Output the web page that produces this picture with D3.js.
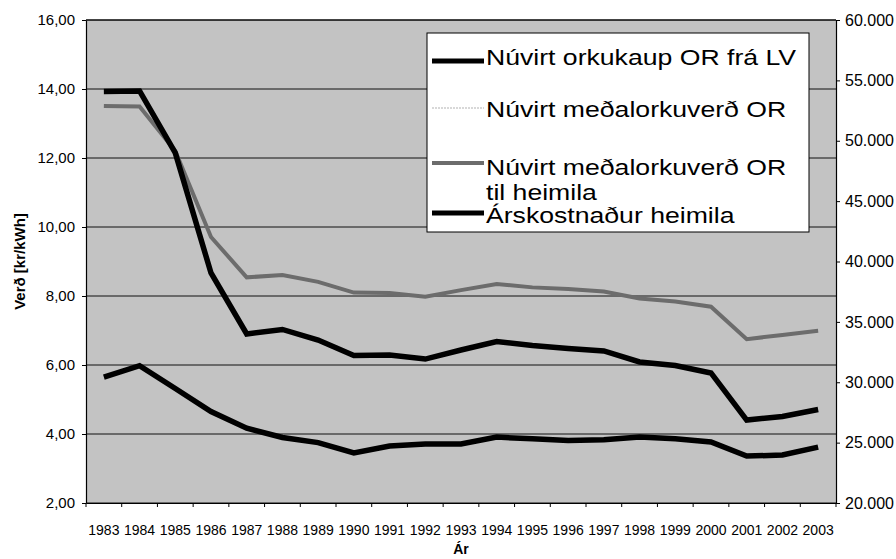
<!DOCTYPE html>
<html>
<head>
<meta charset="utf-8">
<script src="https://cdn.jsdelivr.net/npm/d3@7"></script>
<style>
body { margin: 0; background: #fff; }
svg text { font-family: "Liberation Sans", Arial, sans-serif; fill: #000; }
</style>
</head>
<body>
<svg id="svg1"></svg>
<script>

// data
var years = [1983, 1984, 1985, 1986, 1987, 1988, 1989, 1990, 1991, 1992, 1993,
             1994, 1995, 1996, 1997, 1998, 1999, 2000, 2001, 2002, 2003];
// kr/kWh, left axis
var orkukaup = [5.65, 5.98, 5.32, 4.65, 4.17, 3.9, 3.75, 3.45, 3.65, 3.71, 3.71,
                3.91, 3.86, 3.81, 3.83, 3.91, 3.86, 3.77, 3.36, 3.39, 3.62];
var medalverdHeimili = [13.51, 13.49, 12.2, 9.71, 8.54, 8.61, 8.41, 8.1, 8.09, 7.98, 8.17,
                        8.35, 8.25, 8.2, 8.13, 7.93, 7.84, 7.69, 6.75, 6.87, 6.99];
// kr, right axis
var arskostnadur = [54080, 54120, 48990, 39050, 34000, 34370, 33500, 32210, 32250, 31920, 32670,
                    33370, 33040, 32790, 32590, 31680, 31390, 30770, 26870, 27160, 27740];
var leftTicks = [2, 4, 6, 8, 10, 12, 14, 16];
var rightTicks = [20000, 25000, 30000, 35000, 40000, 45000, 50000, 55000, 60000];
var legendNames = ['Núvirt orkukaup OR frá LV', 'Núvirt meðalorkuverð OR',
                   'Núvirt meðalorkuverð OR', 'Árskostnaður heimila'];

// layout
var margin = {top: 20, right: 60, bottom: 56, left: 86};
var width = 750;
var height = 483;

// scales
var x = d3.scaleBand().domain(years).range([0, width]);
var yL = d3.scaleLinear().domain([2, 16]).range([height, 0]);
var yR = d3.scaleLinear().domain([20000, 60000]).range([height, 0]);

var leftFormat = function(d) { return d3.format('.2f')(d).replace('.', ','); };
var rightFormat = function(d) { return d3.format(',')(d).replace(',', '.'); };

var svg = d3.select('#svg1')
  .attr('width', width + margin.left + margin.right)
  .attr('height', height + margin.top + margin.bottom)
  .append('g')
    .attr('transform', 'translate(' + margin.left + ',' + margin.top + ')');

// plot background
svg.append('rect')
  .attr('width', width)
  .attr('height', height)
  .style('fill', '#c3c3c3');

// gridlines
svg.selectAll('line.grid')
  .data(leftTicks)
  .enter()
  .append('line')
    .classed('grid', true)
    .attr('x1', 0)
    .attr('x2', width)
    .attr('y1', function(d) { return yL(d); })
    .attr('y2', function(d) { return yL(d); })
    .style('stroke', '#111')
    .style('stroke-width', 1);

// axes
var gl = svg.append('g')
  .call(d3.axisLeft(yL).tickValues(leftTicks).tickFormat(leftFormat).tickSize(4).tickSizeOuter(0).tickPadding(7));
var gr = svg.append('g')
  .attr('transform', 'translate(' + width + ',0)')
  .call(d3.axisRight(yR).tickValues(rightTicks).tickFormat(rightFormat).tickSize(4).tickSizeOuter(0).tickPadding(5));
var gb = svg.append('g')
  .attr('transform', 'translate(0,' + height + ')')
  .call(d3.axisBottom(x).tickSize(0).tickPadding(22));

[gl, gr, gb].forEach(function(g) {
  g.attr('font-family', null).attr('font-size', null);
  g.selectAll('.domain').style('stroke', '#000').style('stroke-width', 1.2);
  g.selectAll('.tick line').style('stroke', '#000');
});
gl.selectAll('text').style('font-size', '15px');
gr.selectAll('text').style('font-size', '16px');
gb.selectAll('text').style('font-size', '14px');

// category boundary ticks on the x axis
svg.selectAll('line.xtick')
  .data(years.map(function(d) { return x(d); }).concat([width]))
  .enter()
  .append('line')
    .classed('xtick', true)
    .attr('x1', function(d) { return d; })
    .attr('x2', function(d) { return d; })
    .attr('y1', height)
    .attr('y2', height + 4)
    .style('stroke', '#000');

// axis labels
svg.append('text')
  .attr('transform', 'translate(' + (width / 2) + ',' + (height + 51) + ')')
  .attr('text-anchor', 'middle')
  .style('font-size', '14px')
  .style('font-weight', 'bold')
  .text('Ár');
svg.append('text')
  .attr('transform', 'translate(-61,' + (height / 2) + ') rotate(-90)')
  .attr('text-anchor', 'middle')
  .style('font-size', '15px')
  .style('font-weight', 'bold')
  .text('Verð [kr/kWh]');

// lines
function drawLine(values, scale, color, w) {
  var line = d3.line()
    .x(function(d, i) { return x(years[i]) + x.bandwidth() / 2; })
    .y(function(d) { return scale(d); });
  svg.append('path')
    .datum(values)
    .attr('d', line)
    .style('fill', 'none')
    .style('stroke', color)
    .style('stroke-width', w)
    .style('stroke-linejoin', 'miter');
}
drawLine(medalverdHeimili, yL, '#6c6c6c', 4);
drawLine(orkukaup, yL, '#000', 5.5);
drawLine(arskostnadur, yR, '#000', 5.5);

// top border
svg.append('line')
  .attr('x1', 0).attr('x2', width)
  .attr('y1', 0).attr('y2', 0)
  .style('stroke', '#000');

drawLegend();

function drawLegend() {
  var legend = svg.append('g').attr('transform', 'translate(341,13)');
  legend.append('rect')
    .attr('width', 382)
    .attr('height', 199)
    .style('fill', '#fff')
    .style('stroke', '#000');

  var styles = [
    {color: '#000', w: 5, dash: null},
    {color: '#d8d8d8', w: 2, dash: '2,1'},
    {color: '#6c6c6c', w: 4, dash: null},
    {color: '#000', w: 5, dash: null}
  ];
  var baselines = [32, 84, 142, 190];
  var lineY = [28, 75, 130, 180];

  legendNames.forEach(function(name, i) {
    legend.append('line')
      .attr('x1', 5).attr('x2', 57)
      .attr('y1', lineY[i]).attr('y2', lineY[i])
      .style('stroke', styles[i].color)
      .style('stroke-width', styles[i].w)
      .style('stroke-dasharray', styles[i].dash);
    var t = legend.append('g')
      .attr('transform', 'translate(59,' + baselines[i] + ') scale(1.21,1)');
    t.append('text')
      .style('font-size', '22px')
      .text(name);
    if (i === 2) {
      t.append('text')
        .attr('y', 25)
        .style('font-size', '22px')
        .text('til heimila');
    }
  });
}

</script>
</body>
</html>
